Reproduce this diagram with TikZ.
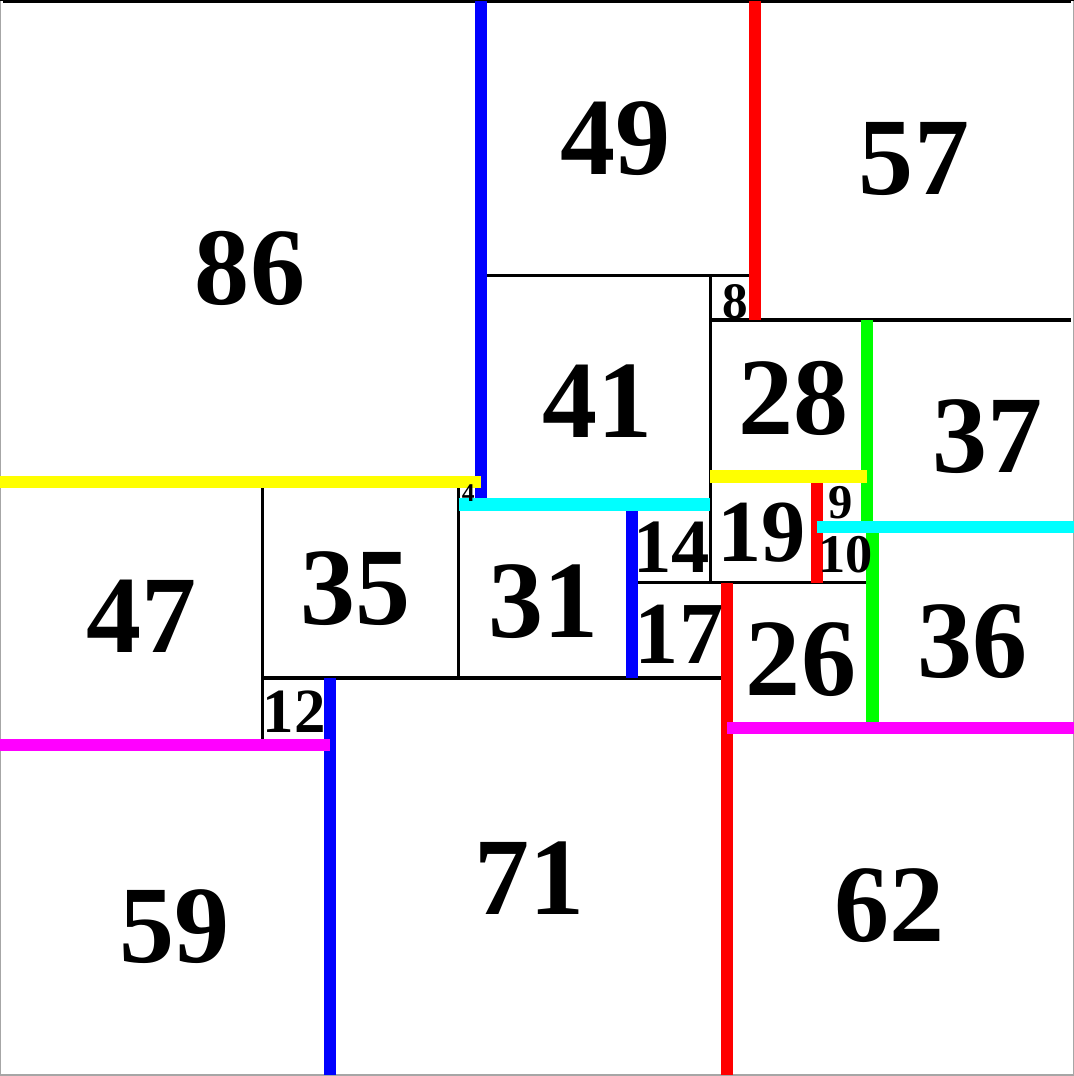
\documentclass[tikz,border=0pt]{standalone}
\usepackage{fontspec}
\setmainfont{Liberation Serif}
\usepackage{tikz}

\definecolor{barblue}{RGB}{0,0,255}
\definecolor{barred}{RGB}{255,0,0}
\definecolor{bargreen}{RGB}{0,255,0}
\definecolor{baryellow}{RGB}{255,255,0}
\definecolor{barcyan}{RGB}{0,255,255}
\definecolor{barmagenta}{RGB}{255,0,255}

\begin{document}
\begin{tikzpicture}[x=0.1cm,y=-0.1cm,
    sq/.style={draw=black,line width=1.6pt},
    bar/.style={line width=6.3pt},
    num/.style={inner sep=0pt,font=\fontsize{#1}{#1}\selectfont\bfseries}]
    \useasboundingbox (0,-0.2) rectangle (192,192.16);

    % Squares, top band
    \draw[sq] (0,0) rectangle ++(86,86);
    \draw[sq] (86,0) rectangle ++(49,49);
    \draw[sq] (135,0) rectangle ++(57,57);
    \draw[sq] (86,49) rectangle ++(41,41);
    \draw[sq] (127,49) rectangle ++(8,8);
    \draw[sq] (127,57) rectangle ++(28,28);
    \draw[sq] (155,57) rectangle ++(37,37);

    % Squares, middle band
    \draw[sq] (0,86) rectangle ++(47,47);
    \draw[sq] (47,86) rectangle ++(35,35);
    \draw[sq] (82,86) rectangle ++(4,4);
    \draw[sq] (82,90) rectangle ++(31,31);
    \draw[sq] (113,90) rectangle ++(14,14);
    \draw[sq] (127,85) rectangle ++(19,19);
    \draw[sq] (146,85) rectangle ++(9,9);
    \draw[sq] (146,94) rectangle ++(10,10);
    \draw[sq] (156,94) rectangle ++(36,36);
    \draw[sq] (113,104) rectangle ++(17,17);
    \draw[sq] (130,104) rectangle ++(26,26);

    % Squares, bottom band
    \draw[sq] (47,121) rectangle ++(12,12);
    \draw[sq] (59,121) rectangle ++(71,71);
    \draw[sq] (0,133) rectangle ++(59,59);
    \draw[sq] (130,130) rectangle ++(62,62);

    % Frame
    \draw[white,line width=3pt] (0,0) -- (0,192) -- (192,192) -- (192,0);
    \draw[gray!70,line width=1pt] (0,0) -- (0,192) -- (192,192) -- (192,0);

    % Vertical bars
    \draw[bar,barblue] (86,0) -- (86,90);
    \draw[bar,barred] (135,0) -- (135,57);
    \draw[bar,barblue] (113,90) -- (113,121);
    \draw[bar,bargreen] (155,57) -- (155,94);
    \draw[bar,barred] (146,85) -- (146,104);
    \draw[bar,bargreen] (156,94) -- (156,130);
    \draw[bar,barred] (130,104) -- (130,192);
    \draw[bar,barblue] (59,121) -- (59,192);

    % Horizontal bars
    \draw[bar,baryellow] (0,86) -- (86,86);
    \draw[bar,barcyan] (82,90) -- (127,90);
    \draw[bar,baryellow] (127,85) -- (155,85);
    \draw[bar,barcyan] (146,94) -- (192,94);
    \draw[bar,barmagenta] (130,130) -- (192,130);
    \draw[bar,barmagenta] (0,133) -- (59,133);

    % Labels
    \node[num=56] (l86) at (44.7,47.7) {86};
    \node[num=56] (l49) at (110.0,24.6) {49};
    \node[num=56] (l57) at (163.4,28.2) {57};
    \node[num=56] (l41) at (106.9,71.5) {41};
    \node[num=26] (l8) at (131.4,53.8) {8};
    \node[num=56] (l28) at (141.8,71.0) {28};
    \node[num=56] (l37) at (176.6,77.8) {37};
    \node[num=56] (l47) at (25.3,109.9) {47};
    \node[num=56] (l35) at (63.5,105.0) {35};
    \node[num=13] (l4) at (83.7,88.0) {4};
    \node[num=56] (l31) at (97.1,107.3) {31};
    \node[num=39] (l14) at (120.1,97.6) {14};
    \node[num=45] (l19) at (136.2,95.1) {19};
    \node[num=24.7] (l9) at (150.3,89.6) {9};
    \node[num=27.7] (l10) at (151.2,98.9) {10};
    \node[num=45] (l17) at (121.4,113.2) {17};
    \node[num=56] (l26) at (143.2,117.8) {26};
    \node[num=56] (l36) at (173.9,114.5) {36};
    \node[num=32] (l12) at (52.6,127.1) {12};
    \node[num=56] (l71) at (94.7,156.8) {71};
    \node[num=56] (l59) at (31.2,165.5) {59};
    \node[num=56] (l62) at (159.0,161.7) {62};
\end{tikzpicture}
\end{document}
